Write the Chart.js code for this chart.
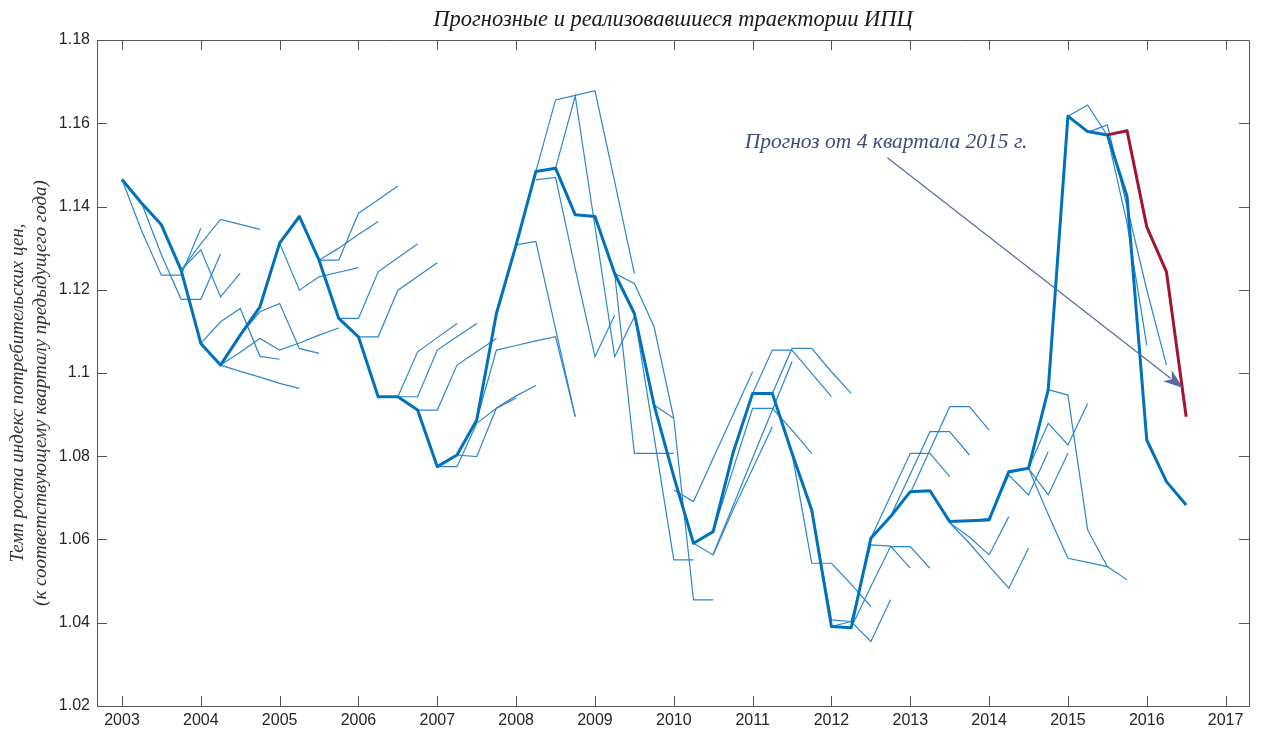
<!DOCTYPE html>
<html>
<head>
<meta charset="utf-8">
<script src="https://cdn.jsdelivr.net/npm/chart.js@4.4.1/dist/chart.umd.min.js"></script>
<style>
  html, body { margin: 0; padding: 0; background: #ffffff; }
  #wrap { width: 1261px; height: 733px; position: relative; }
</style>
</head>
<body>
<div id="wrap"><canvas id="cpi" width="1261" height="733"></canvas></div>
<script>
// Quarterly CPI growth (to the same quarter of the previous year), first point = 2003 Q1
const startYear = 2003;
const actualCPI = [
  1.1465, 1.1408, 1.1356, 1.1247,
  1.1071, 1.1019, 1.1091, 1.1159,
  1.1312, 1.1376, 1.1271, 1.1131,
  1.1087, 1.0943, 1.0943, 1.0911,
  1.0775, 1.0803, 1.0887, 1.1143,
  1.1308, 1.1484, 1.1492, 1.1380,
  1.1376, 1.1239, 1.1143, 1.0923,
  1.0751, 1.0591, 1.0619, 1.0807,
  1.0951, 1.0951, 1.0807, 1.0671,
  1.0391, 1.0388, 1.0603, 1.0655,
  1.0715, 1.0717, 1.0643, 1.0645,
  1.0647, 1.0763, 1.0771, 1.0960,
  1.1617, 1.1580, 1.1572, 1.1424,
  1.0839, 1.0739, 1.0683
];

// Forecast made in Q4 2015 (starts from the last known quarter, 2015 Q3)
const forecastQ4Start = 50;
const forecastQ4 = [1.1572, 1.1582, 1.1351, 1.1243, 1.0895];

// Earlier forecast paths: quarter index of the first point, then the path values
const pathStart = [
  0, 1, 2, 3, 4, 5, 5, 6,
  8, 9, 10, 11, 12, 13, 14, 15,
  16, 17, 18, 19, 21, 21, 22,
  24, 24, 25, 26, 28, 29, 30, 30,
  32, 33, 34, 35, 36, 37, 38, 39,
  40, 41, 42, 43, 44, 45, 46, 47,
  48, 49
];
const pathValues = [
  [1.1465, 1.1341, 1.1235, 1.1235, 1.1348],
  [1.1408, 1.1284, 1.1177, 1.1177, 1.1286],
  [1.1356, 1.1247, 1.1296, 1.1183, 1.1240],
  [1.1247, 1.1310, 1.1369, 1.1357, 1.1345],
  [1.1071, 1.1123, 1.1155, 1.1040, 1.1033],
  [1.1019, 1.1004, 1.0990, 1.0975, 1.0963],
  [1.1019, 1.1050, 1.1083, 1.1055, 1.1072, 1.1091, 1.1108],
  [1.1091, 1.1147, 1.1167, 1.1059, 1.1047],
  [1.1312, 1.1199, 1.1231, 1.1242, 1.1253],
  [1.1376, 1.1271, 1.1300, 1.1333, 1.1364],
  [1.1271, 1.1271, 1.1384, 1.1416, 1.1449],
  [1.1131, 1.1131, 1.1243, 1.1277, 1.1310],
  [1.1087, 1.1087, 1.1199, 1.1232, 1.1265],
  [1.0943, 1.0943, 1.1051, 1.1085, 1.1119],
  [1.0943, 1.0943, 1.1055, 1.1087, 1.1119],
  [1.0911, 1.0911, 1.1019, 1.1051, 1.1083],
  [1.0775, 1.0775, 1.0879, 1.0915, 1.0940],
  [1.0803, 1.0799, 1.0916, 1.0945, 1.0970],
  [1.0887, 1.1055, 1.1066, 1.1077, 1.1087, 1.0895],
  [1.1143, 1.1308, 1.1316, 1.1106, 1.0895],
  [1.1484, 1.1656, 1.1667, 1.1678, 1.1460, 1.1239],
  [1.1464, 1.1470, 1.1250, 1.1039, 1.1139],
  [1.1492, 1.1665, 1.1352, 1.1039, 1.1135],
  [1.1376, 1.1239, 1.0807, 1.0807, 1.0807],
  [1.1376, 1.1239, 1.1215, 1.1111, 1.0891],
  [1.1239, 1.1143, 1.0847, 1.0551, 1.0551],
  [1.1143, 1.0923, 1.0891, 1.0455, 1.0455],
  [1.0719, 1.0691, 1.0795, 1.0899, 1.1003],
  [1.0591, 1.0563, 1.0670, 1.0770, 1.0871],
  [1.0619, 1.0768, 1.0915, 1.0915, 1.0863, 1.0807],
  [1.0565, 1.0680, 1.0796, 1.0911, 1.1027],
  [1.0951, 1.1055, 1.1055, 1.0999, 1.0943],
  [1.0951, 1.1059, 1.1059, 1.1003, 1.0951],
  [1.0807, 1.0543, 1.0543, 1.0493, 1.0439],
  [1.0671, 1.0407, 1.0403, 1.0355, 1.0455],
  [1.0391, 1.0403, 1.0587, 1.0584, 1.0531],
  [1.0388, 1.0487, 1.0583, 1.0583, 1.0531],
  [1.0603, 1.0705, 1.0807, 1.0807, 1.0751],
  [1.0656, 1.0757, 1.0859, 1.0859, 1.0803],
  [1.0711, 1.0815, 1.0919, 1.0919, 1.0863],
  [1.0717, 1.0640, 1.0606, 1.0563, 1.0655],
  [1.0640, 1.0591, 1.0536, 1.0483, 1.0579],
  [1.0645, 1.0651, 1.0755, 1.0707, 1.0811],
  [1.0647, 1.0760, 1.0771, 1.0707, 1.0807],
  [1.0763, 1.0771, 1.0879, 1.0827, 1.0927],
  [1.0771, 1.0660, 1.0555, 1.0545, 1.0535],
  [1.0960, 1.0947, 1.0623, 1.0535, 1.0503],
  [1.1617, 1.1644, 1.1570, 1.1360, 1.1067],
  [1.1578, 1.1596, 1.1400, 1.1200, 1.1019]
];

const yearTicks = [2003, 2004, 2005, 2006, 2007, 2008, 2009, 2010, 2011, 2012, 2013, 2014, 2015, 2016, 2017];
const valueTicks = [1.02, 1.04, 1.06, 1.08, 1.10, 1.12, 1.14, 1.16, 1.18];

const titleText = 'Прогнозные и реализовавшиеся траектории ИПЦ';
const yTitleLines = ['Темп роста индекс потребительских цен,', '(к соответствующему кварталу предыдущего года)'];
const noteText = 'Прогноз от 4 квартала 2015 г.';

// ---------------------------------------------------------------------------

const toPoints = (q0, vals) => vals.map((v, i) => ({ x: startYear + (q0 + i) / 4, y: v }));

const datasets = [
  {
    data: toPoints(forecastQ4Start, forecastQ4),
    borderColor: '#A2142F', borderWidth: 3, order: 0,
    borderJoinStyle: 'round', borderCapStyle: 'butt'
  },
  {
    data: toPoints(0, actualCPI),
    borderColor: '#0072BD', borderWidth: 3, order: 1,
    borderJoinStyle: 'round', borderCapStyle: 'butt'
  }
];
pathValues.forEach((vals, k) => {
  datasets.push({
    data: toPoints(pathStart[k], vals),
    borderColor: '#2B87CC', borderWidth: 1.2, order: 2,
    borderJoinStyle: 'miter'
  });
});

const AXIS_COLOR = '#555555';
const TICK_LEN = 10;
const SERIF = '"Liberation Serif", "Times New Roman", serif';

const framePlugin = {
  id: 'frameAndNotes',
  afterDraw(chart) {
    const { ctx, chartArea: a, scales: { x, y } } = chart;
    ctx.save();

    // box and inward ticks
    ctx.strokeStyle = AXIS_COLOR;
    ctx.lineWidth = 1;
    ctx.beginPath();
    ctx.rect(Math.round(a.left) + 0.5, Math.round(a.top) + 0.5,
             Math.round(a.right - a.left), Math.round(a.bottom - a.top));
    yearTicks.forEach(v => {
      const px = Math.round(x.getPixelForValue(v)) + 0.5;
      ctx.moveTo(px, a.bottom); ctx.lineTo(px, a.bottom - TICK_LEN);
      ctx.moveTo(px, a.top); ctx.lineTo(px, a.top + TICK_LEN);
    });
    valueTicks.forEach(v => {
      const py = Math.round(y.getPixelForValue(v)) + 0.5;
      ctx.moveTo(a.left, py); ctx.lineTo(a.left + TICK_LEN, py);
      ctx.moveTo(a.right, py); ctx.lineTo(a.right - TICK_LEN, py);
    });
    ctx.stroke();

    // title
    ctx.fillStyle = '#1a1a1a';
    ctx.font = 'italic 22.5px ' + SERIF;
    ctx.textAlign = 'center';
    ctx.textBaseline = 'middle';
    ctx.fillText(titleText, (a.left + a.right) / 2, 20);

    // vertical axis caption (two lines)
    ctx.font = 'italic 19px ' + SERIF;
    ctx.fillStyle = '#333333';
    const cy = 393;
    [18, 41].forEach((cx, i) => {
      ctx.save();
      ctx.translate(cx, cy);
      ctx.rotate(-Math.PI / 2);
      ctx.fillText(yTitleLines[i], 0, 0);
      ctx.restore();
    });

    // annotation with arrow pointing at the end of the Q4 2015 forecast
    const last = forecastQ4.length - 1;
    const tipX = x.getPixelForValue(startYear + (forecastQ4Start + last) / 4) - 3;
    const tipY = y.getPixelForValue(1.0964);
    const fromX = x.getPixelForValue(2012.71);
    const fromY = y.getPixelForValue(1.1517);
    ctx.strokeStyle = '#5B6B9C';
    ctx.fillStyle = '#5B6B9C';
    ctx.lineWidth = 1.2;
    const ang = Math.atan2(tipY - fromY, tipX - fromX);
    const headL = 20, headW = 7;
    ctx.beginPath();
    ctx.moveTo(fromX, fromY);
    ctx.lineTo(tipX - headL * 0.8 * Math.cos(ang), tipY - headL * 0.8 * Math.sin(ang));
    ctx.stroke();
    ctx.beginPath();
    ctx.moveTo(tipX, tipY);
    ctx.lineTo(tipX - headL * Math.cos(ang) + headW * Math.sin(ang), tipY - headL * Math.sin(ang) - headW * Math.cos(ang));
    ctx.lineTo(tipX - headL * 0.72 * Math.cos(ang), tipY - headL * 0.72 * Math.sin(ang));
    ctx.lineTo(tipX - headL * Math.cos(ang) - headW * Math.sin(ang), tipY - headL * Math.sin(ang) + headW * Math.cos(ang));
    ctx.closePath();
    ctx.fill();

    ctx.fillStyle = '#3E4C7C';
    ctx.font = 'italic 21.5px ' + SERIF;
    ctx.textAlign = 'left';
    ctx.textBaseline = 'middle';
    ctx.fillText(noteText, x.getPixelForValue(2010.9), y.getPixelForValue(1.1553));

    ctx.restore();
  }
};

const tickFont = { family: '"Liberation Sans", Arial, sans-serif', size: 16 };

new Chart(document.getElementById('cpi'), {
  type: 'line',
  data: { datasets },
  options: {
    responsive: false,
    animation: false,
    events: [],
    layout: { padding: { left: 0, right: 12, top: 40, bottom: 0 } },
    elements: { point: { radius: 0 }, line: { tension: 0 } },
    plugins: { legend: { display: false }, tooltip: { enabled: false }, title: { display: false } },
    scales: {
      x: {
        type: 'linear', min: 2002.683, max: 2017.297,
        afterBuildTicks: s => { s.ticks = yearTicks.map(v => ({ value: v })); },
        afterFit: s => { s.height = 27; },
        grid: { display: false, drawTicks: false },
        border: { display: false },
        ticks: { font: tickFont, color: '#262626', padding: 5, maxRotation: 0, autoSkip: false,
                 callback: v => String(v) }
      },
      y: {
        type: 'linear', min: 1.02, max: 1.18,
        afterBuildTicks: s => { s.ticks = valueTicks.map(v => ({ value: v })); },
        afterFit: s => { s.width = 97; },
        grid: { display: false, drawTicks: false },
        border: { display: false },
        ticks: { font: tickFont, color: '#262626', padding: 7,
                 callback: v => String(Number(v.toFixed(2))) }
      }
    }
  },
  plugins: [framePlugin]
});
</script>
</body>
</html>
